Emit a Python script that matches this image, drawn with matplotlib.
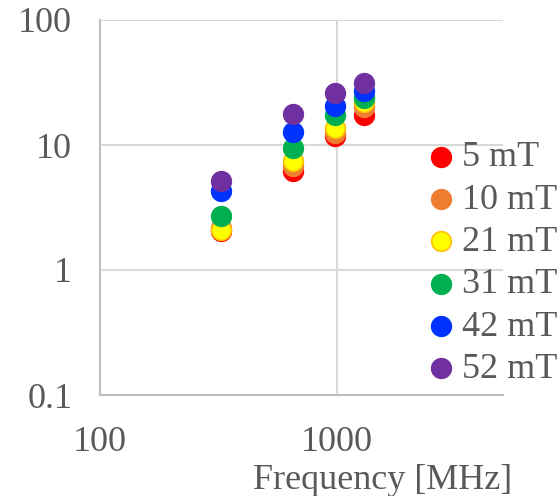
import numpy as np
import matplotlib.pyplot as plt

plt.rcParams['font.family'] = ['Liberation Serif', 'DejaVu Serif']

freq = [325, 650, 975, 1300]
labels = ['5 mT', '10 mT', '21 mT', '31 mT', '42 mT', '52 mT']
vals_5 = [2.05, 6.2, 11.7, 17.4]
vals_10 = [2.15, 6.8, 12.4, 20.3]
vals_21 = [2.08, 7.4, 13.6, 22.2]
vals_31 = [2.70, 9.4, 17.4, 23.6]
vals_42 = [4.31, 12.8, 20.6, 27.2]
vals_52 = [5.18, 17.6, 25.9, 31.2]
series = [vals_5, vals_10, vals_21, vals_31, vals_42, vals_52]

colors = ['#ff0000', '#ed7d31', '#ffff00', '#00b050', '#0033ff', '#7030a0']
edges = ['#ff0000', '#ed7d31', '#ffc000', '#00b050', '#0033ff', '#7030a0']

fig = plt.figure(figsize=(5.59, 4.96), dpi=100)
ax = fig.add_axes([100/559, 101/496, 403/559, 375/496])

for v, lab, c, e in zip(series, labels, colors, edges):
    ax.scatter(freq, v, s=200, c=c, edgecolors=e, linewidths=1.2, label=lab, zorder=3)

ax.set_xscale('log')
ax.set_yscale('log')
ax.set_xlim(100, 5000)
ax.set_ylim(0.1, 100)
ax.set_xticks([100, 1000])
ax.set_xticklabels(['100', '1000'])
ax.set_yticks([0.1, 1, 10, 100])
ax.set_yticklabels(['0.1', '1', '10', '100'])
ax.minorticks_off()
ax.grid(True, color='#d9d9d9', linewidth=1.5)
ax.set_axisbelow(True)

for s in ['top', 'right']:
    ax.spines[s].set_visible(False)
for s in ['left', 'bottom']:
    ax.spines[s].set_color('#bfbfbf')
    ax.spines[s].set_linewidth(1.5)

ax.tick_params(axis='both', length=0, labelsize=26, labelcolor='#595959')
ax.tick_params(axis='y', pad=20)
ax.tick_params(axis='x', pad=22)

ax.set_xlabel('Frequency [MHz]', fontsize=26, color='#595959')
ax.xaxis.set_label_coords(0.70, -0.183)

leg = ax.legend(loc='upper left', bbox_to_anchor=(419/559, 1 - 141/496),
                bbox_transform=fig.transFigure, frameon=False,
                fontsize=26, labelspacing=0.25, handletextpad=0.0,
                handlelength=1.2, borderpad=0, borderaxespad=0,
                labelcolor='#595959')

fig.savefig('out.png', dpi=100)
